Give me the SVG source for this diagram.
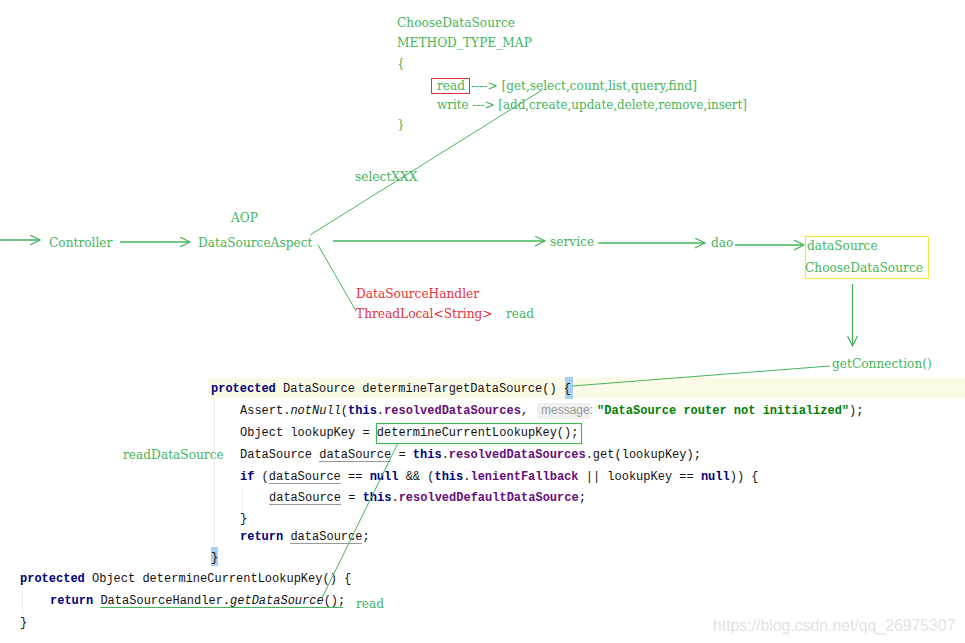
<svg xmlns="http://www.w3.org/2000/svg" width="965" height="643" viewBox="0 0 965 643">
<style>
.lbl{font-family:"DejaVu Serif","Liberation Serif",serif;font-size:12.2px;fill:#45b55a}
.red{fill:#e5323c}
.code{font-family:"Liberation Mono","Courier New",monospace;font-size:12px;fill:#111;white-space:pre}
.kw{fill:#000080;font-weight:bold}
.fld{fill:#660e7a;font-weight:bold}
.str{fill:#008000;font-weight:bold}
.it{font-style:italic}
.ln{stroke:#45b55a;stroke-width:1;fill:none}
.arr{stroke:#45b55a;stroke-width:1.3;fill:none}
.ul{stroke:#999;stroke-width:1}
</style>
<defs>
<marker id="open" markerWidth="12" markerHeight="12" refX="10" refY="5" orient="auto" markerUnits="userSpaceOnUse">
<path d="M0,0 L10,5 L0,10" fill="none" stroke="#45b55a" stroke-width="1.2"/>
</marker>
</defs>
<rect width="965" height="643" fill="#fff"/>

<g id="method-type-map">
<text class="lbl" x="397" y="27">ChooseDataSource</text>
<text class="lbl" x="397" y="47">METHOD_TYPE_MAP</text>
<text class="lbl" x="397" y="68">{</text>
<rect x="431.5" y="78.5" width="38" height="15" fill="none" stroke="#e5323c" stroke-width="1"/>
<text class="lbl" x="437" y="90">read</text>
<text class="lbl" x="471" y="90" textLength="226" lengthAdjust="spacingAndGlyphs">----&gt; [get,select,count,list,query,find]</text>
<text class="lbl" x="437" y="109" textLength="310" lengthAdjust="spacingAndGlyphs">write ---&gt; [add,create,update,delete,remove,insert]</text>
<text class="lbl" x="397" y="129">}</text>
</g>
<g id="selectXXX"><text class="lbl" x="355" y="181">selectXXX</text></g>
<g id="controller"><text class="lbl" x="49" y="247">Controller</text></g>
<g id="aspect">
<text class="lbl" x="231" y="222">AOP</text>
<text class="lbl" x="198" y="247">DataSourceAspect</text>
</g>
<g id="service"><text class="lbl" x="550" y="246">service</text></g>
<g id="dao"><text class="lbl" x="711" y="247">dao</text></g>
<g id="datasource">
<rect x="805.5" y="236.5" width="123" height="42" fill="none" stroke="#f3e84a" stroke-width="1.2"/>
<text class="lbl" x="807" y="250">dataSource</text>
<text class="lbl" x="805" y="272">ChooseDataSource</text>
</g>
<g id="getConnection"><text class="lbl" x="832" y="368">getConnection()</text></g>
<g id="handler">
<text class="lbl red" x="356" y="298">DataSourceHandler</text>
<text class="lbl red" x="356" y="318">ThreadLocal&lt;String&gt;</text>
<text class="lbl" x="506" y="318">read</text>
</g>
<g id="readDataSource"><text class="lbl" x="123" y="459">readDataSource</text></g>
<g id="read2"><text class="lbl" x="356" y="608">read</text></g>

<g id="code">
<rect x="208" y="377" width="757" height="22" fill="#fdfae9"/>
<rect x="565" y="377" width="8" height="22" fill="#a8cff4"/>
<rect x="211" y="547" width="7" height="19" fill="#a8cff4"/>
<line x1="214.5" y1="400" x2="214.5" y2="546" stroke="#eee"/>
<line x1="242.5" y1="486" x2="242.5" y2="512" stroke="#eee"/>
<line x1="22.5" y1="589" x2="22.5" y2="614" stroke="#eee"/>
<text class="code" x="211" y="392"><tspan class="kw">protected</tspan> DataSource determineTargetDataSource() {</text>
<text class="code" x="240" y="414">Assert.<tspan class="it">notNull</tspan>(<tspan class="kw">this</tspan>.<tspan class="fld">resolvedDataSources</tspan>,</text>
<rect x="537" y="403" width="54" height="16" rx="2" fill="#f0f0f0"/>
<text x="541" y="414" font-family="Liberation Sans,Arial,sans-serif" font-size="12" fill="#999">message:</text>
<text class="code str" x="597" y="414">"DataSource router not initialized"<tspan fill="#111" font-weight="normal">);</tspan></text>
<text class="code" x="240" y="436">Object lookupKey = determineCurrentLookupKey();</text>
<rect x="376.5" y="423.5" width="205" height="20" fill="none" stroke="#45b55a" stroke-width="1.2"/>
<text class="code" x="240" y="458">DataSource dataSource = <tspan class="kw">this</tspan>.<tspan class="fld">resolvedDataSources</tspan>.get(lookupKey);</text>
<text class="code" x="240" y="480"><tspan class="kw">if</tspan> (dataSource == <tspan class="kw">null</tspan> &amp;&amp; (<tspan class="kw">this</tspan>.<tspan class="fld">lenientFallback</tspan> || lookupKey == <tspan class="kw">null</tspan>)) {</text>
<text class="code" x="269" y="501">dataSource = <tspan class="kw">this</tspan>.<tspan class="fld">resolvedDefaultDataSource</tspan>;</text>
<text class="code" x="240" y="522">}</text>
<text class="code" x="240" y="540"><tspan class="kw">return</tspan> dataSource;</text>
<text class="code" x="211" y="561">}</text>
<text class="code" x="20" y="582"><tspan class="kw">protected</tspan> Object determineCurrentLookupKey() {</text>
<text class="code" x="50" y="604"><tspan class="kw">return</tspan> DataSourceHandler.<tspan class="it">getDataSource</tspan>();</text>
<text class="code" x="20" y="626">}</text>
<line class="ul" x1="319" y1="461.5" x2="391" y2="461.5"/>
<line class="ul" x1="269" y1="483.5" x2="341" y2="483.5"/>
<line class="ul" x1="269" y1="504.5" x2="341" y2="504.5"/>
<line class="ul" x1="290" y1="543.5" x2="362" y2="543.5"/>
<line x1="100" y1="607.5" x2="343" y2="607.5" stroke="#45b55a" stroke-width="1.2"/>
</g>

<g id="connectors">
<line class="arr" x1="0" y1="240" x2="40" y2="240" marker-end="url(#open)"/>
<line class="arr" x1="120" y1="242" x2="190" y2="242" marker-end="url(#open)"/>
<line class="arr" x1="333" y1="241" x2="545" y2="241" marker-end="url(#open)"/>
<line class="arr" x1="598" y1="243" x2="705" y2="243" marker-end="url(#open)"/>
<line class="arr" x1="735" y1="245" x2="804" y2="245" marker-end="url(#open)"/>
<line class="arr" x1="852.5" y1="284" x2="852.5" y2="346" marker-end="url(#open)"/>
<line class="ln" x1="310" y1="235" x2="542" y2="90"/>
<line class="ln" x1="318" y1="245" x2="356" y2="311"/>
<line class="ln" x1="830" y1="366" x2="572" y2="386"/>
<line class="ln" x1="398" y1="443" x2="322" y2="598"/>
</g>

<text x="713" y="631" font-family="Liberation Sans,Arial,sans-serif" font-size="15.8" fill="#e3e3e3">https://blog.csdn.net/qq_26975307</text>
</svg>
